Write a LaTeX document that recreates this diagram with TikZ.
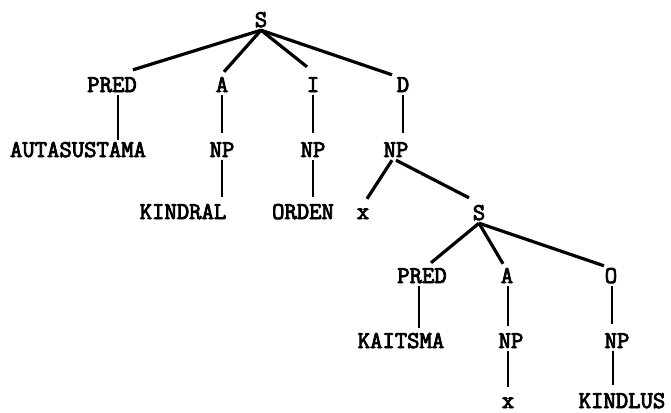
\documentclass[tikz,border=0pt]{standalone}
\usepackage{fontspec}
\newfontfamily\twfont[FakeBold=3.5]{Latin Modern Mono}
\begin{document}
\begin{tikzpicture}[x=1pt,y=-1pt,
  lbl/.style={font=\twfont\fontsize{24}{24}\selectfont, text height=14pt, text depth=0pt, inner sep=3pt},
  lowlbl/.style={lbl, inner ysep=2pt},
  br/.style={line width=3.2pt},
  vl/.style={line width=2.4pt}]
\useasboundingbox[fill=white] (0,0) rectangle (671,412);
\node[lbl] (S1) at (261,20) {S};
\node[lbl] (P1) at (112,85) {PRED};
\node[lbl] (A1) at (222,85) {A};
\node[lbl] (I1) at (313,85) {I};
\node[lbl] (D1) at (403,85) {D};
\node[lbl] (AUT) at (78,150) {AUTASUSTAMA};
\node[lbl] (NPa) at (222,150) {NP};
\node[lbl] (NPi) at (313,150) {NP};
\node[lbl] (NPd) at (396,150) {NP};
\node[lbl] (KIN) at (183,212) {KINDRAL};
\node[lbl] (ORD) at (303,212) {ORDEN};
\node[lbl] (X1) at (363,212) {x};
\node[lbl] (S2) at (479,213) {S};
\node[lbl] (P2) at (422,276) {PRED};
\node[lbl] (A2) at (507,276) {A};
\node[lbl] (O) at (611,276) {O};
\node[lbl] (KAI) at (401,341) {KAITSMA};
\node[lbl] (NPa2) at (511,341) {NP};
\node[lbl] (NPo) at (617,341) {NP};
\node[lowlbl] (X2) at (508,401) {x};
\node[lowlbl] (KDL) at (622,401) {KINDLUS};
% branches from S1
\draw[br] (S1.south) -- ([xshift=21pt,yshift=5pt]P1.north);
\draw[br] (S1.south) -- ([xshift=2pt,yshift=3pt]A1.north);
\draw[br] (S1.south) -- ([xshift=-6pt,yshift=8pt]I1.north);
\draw[br] (S1.south) -- ([xshift=-11pt]D1.north);
% verticals
\draw[vl] ([xshift=6pt]P1.south) -- ([xshift=40pt]AUT.north);
\draw[vl,shorten >=7pt] (A1.south) -- (NPa.north);
\draw[vl,shorten >=5pt] (NPa.south) -- ([xshift=39pt]KIN.north);
\draw[vl,shorten >=7pt] (I1.south) -- (NPi.north);
\draw[vl,shorten >=5pt] (NPi.south) -- ([xshift=10pt]ORD.north);
\draw[vl,shorten >=7pt] (D1.south) -- ([xshift=7pt]NPd.north);
% from NPd
\draw[br] ([xshift=-4pt]NPd.south) -- ([xshift=4pt,yshift=3pt]X1.north);
\draw[br] (NPd.south) -- ([xshift=-10pt,yshift=5pt]S2.north);
% branches from S2
\draw[br] (S2.south) -- ([xshift=9pt,yshift=3pt]P2.north);
\draw[br] (S2.south) -- ([xshift=-4pt,yshift=2pt]A2.north);
\draw[br] (S2.south) -- ([xshift=-7pt]O.north);
% verticals lower
\draw[vl,shorten >=3pt] ([xshift=-3pt]P2.south) -- ([xshift=18pt]KAI.north);
\draw[vl,shorten >=5pt] ([xshift=1pt]A2.south) -- ([xshift=-3pt]NPa2.north);
\draw[vl,shorten >=5pt] ([xshift=-3pt]NPa2.south) -- (X2.north);
\draw[vl,shorten >=7pt] ([xshift=1pt]O.south) -- ([xshift=-5pt]NPo.north);
\draw[vl,shorten >=7pt] ([xshift=-4pt]NPo.south) -- ([xshift=-9pt]KDL.north);
\end{tikzpicture}
\end{document}
